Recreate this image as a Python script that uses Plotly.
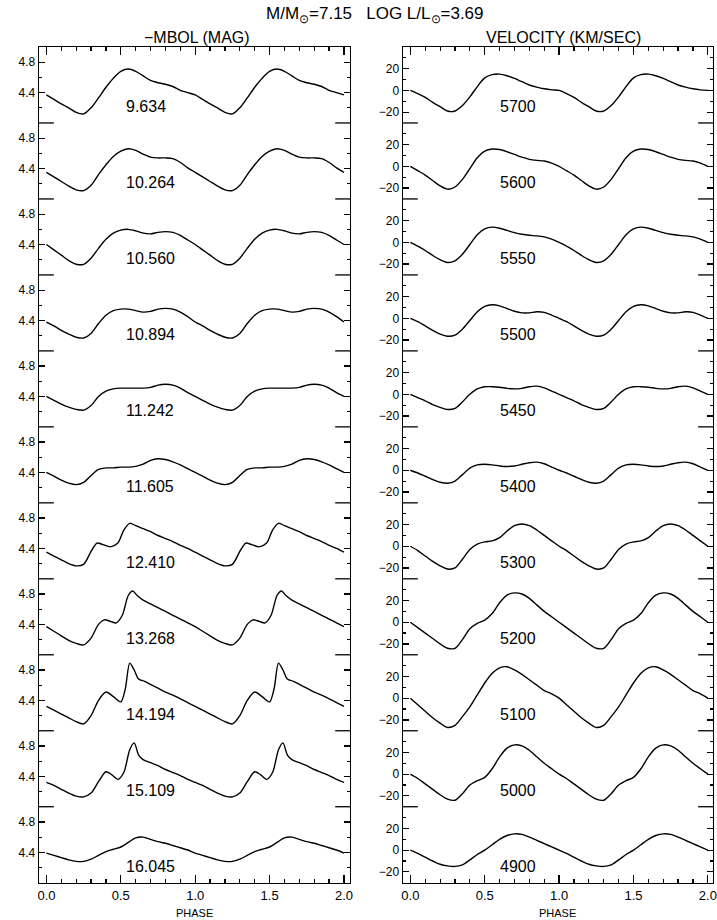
import plotly.graph_objects as go

W, H = 717, 920
FONT = "Liberation Sans, Arial, sans-serif"

# ---------------- data ----------------
PERIODS = ["9.634", "10.264", "10.560", "10.894", "11.242", "11.605",
           "12.410", "13.268", "14.194", "15.109", "16.045"]
TEMPS = ["5700", "5600", "5550", "5500", "5450", "5400",
         "5300", "5200", "5100", "5000", "4900"]

GRID = [0.00, 0.05, 0.10, 0.15, 0.20, 0.25, 0.30, 0.35, 0.40, 0.45,
        0.50, 0.55, 0.60, 0.65, 0.70, 0.75, 0.80, 0.85, 0.90, 0.95]

# -Mbol light curves (one pulsation cycle)
mbol_0 = [4.37, 4.31, 4.25, 4.20, 4.14, 4.12, 4.20, 4.33, 4.47, 4.59,
          4.68, 4.71, 4.68, 4.62, 4.56, 4.53, 4.51, 4.48, 4.43, 4.40]
mbol_1 = [4.35, 4.29, 4.23, 4.17, 4.12, 4.11, 4.18, 4.32, 4.45, 4.56,
          4.63, 4.66, 4.64, 4.59, 4.55, 4.54, 4.54, 4.53, 4.48, 4.41]
mbol_2 = [4.40, 4.33, 4.26, 4.19, 4.14, 4.14, 4.22, 4.35, 4.47, 4.55,
          4.59, 4.60, 4.58, 4.55, 4.54, 4.56, 4.57, 4.56, 4.52, 4.46]
mbol_3 = [4.38, 4.33, 4.27, 4.22, 4.18, 4.17, 4.23, 4.36, 4.47, 4.53,
          4.55, 4.55, 4.53, 4.51, 4.52, 4.55, 4.56, 4.55, 4.51, 4.45]
mbol_4 = [4.40, 4.35, 4.30, 4.26, 4.23, 4.22, 4.28, 4.40, 4.47, 4.50,
          4.51, 4.51, 4.51, 4.51, 4.52, 4.55, 4.56, 4.55, 4.51, 4.45]
mbol_5 = [4.40, 4.35, 4.30, 4.26, 4.24, 4.27, 4.36, 4.44, 4.46, 4.46,
          4.47, 4.47, 4.48, 4.51, 4.56, 4.58, 4.57, 4.54, 4.50, 4.45]
mbol_ph_6 = [0.00, 0.05, 0.10, 0.15, 0.20, 0.25, 0.30, 0.34, 0.38, 0.43, 0.48,
             0.52, 0.56, 0.60, 0.65, 0.70, 0.75, 0.80, 0.85, 0.90, 0.95]
mbol_6 = [4.35, 4.30, 4.25, 4.20, 4.17, 4.19, 4.36, 4.47, 4.45, 4.42, 4.47,
          4.64, 4.73, 4.70, 4.66, 4.62, 4.57, 4.53, 4.49, 4.44, 4.40]
mbol_ph_7 = [0.00, 0.05, 0.10, 0.15, 0.20, 0.25, 0.30, 0.35, 0.39, 0.43, 0.47,
             0.51, 0.55, 0.58, 0.61, 0.65, 0.70, 0.75, 0.80, 0.85, 0.90, 0.95]
mbol_7 = [4.37, 4.31, 4.25, 4.19, 4.15, 4.13, 4.22, 4.40, 4.46, 4.44, 4.42,
          4.52, 4.78, 4.84, 4.78, 4.72, 4.67, 4.62, 4.57, 4.52, 4.47, 4.42]
mbol_ph_8 = [0.00, 0.05, 0.10, 0.15, 0.20, 0.25, 0.30, 0.35, 0.40, 0.45, 0.50,
             0.53, 0.56, 0.59, 0.62, 0.66, 0.70, 0.75, 0.80, 0.85, 0.90, 0.95]
mbol_8 = [4.32, 4.27, 4.22, 4.17, 4.12, 4.09, 4.20, 4.40, 4.51, 4.45, 4.38,
          4.55, 4.89, 4.80, 4.68, 4.65, 4.61, 4.56, 4.51, 4.47, 4.42, 4.37]
mbol_ph_9 = [0.00, 0.05, 0.10, 0.15, 0.20, 0.25, 0.30, 0.35, 0.40, 0.44, 0.48,
             0.52, 0.56, 0.59, 0.62, 0.65, 0.70, 0.75, 0.80, 0.85, 0.90, 0.95]
mbol_9 = [4.32, 4.28, 4.23, 4.18, 4.14, 4.13, 4.18, 4.33, 4.46, 4.42, 4.36,
          4.45, 4.75, 4.84, 4.68, 4.62, 4.58, 4.54, 4.49, 4.45, 4.41, 4.36]
mbol_10 = [4.39, 4.36, 4.33, 4.30, 4.28, 4.28, 4.31, 4.36, 4.41, 4.44,
           4.47, 4.53, 4.59, 4.60, 4.57, 4.54, 4.52, 4.49, 4.46, 4.43]

# radial velocity curves (km/s, one cycle on GRID)
vel_0 = [0, -3, -6.5, -11, -15, -19, -19, -14, -6, 3.5,
         11.5, 14.5, 15, 13.5, 11, 8, 5, 3, 1.5, 0.5]
vel_1 = [0, -4, -8, -13, -18, -21, -19, -12, -2, 8,
         14, 16, 15.5, 13.5, 11, 8.5, 6.5, 5.5, 5, 3]
vel_2 = [0, -3.5, -7.5, -12, -16, -18.5, -17, -11, -2, 7,
         12.5, 14, 13, 11, 9, 7.5, 6.5, 6, 5, 3]
vel_3 = [0, -3, -7, -11, -14.5, -16.5, -15.5, -10, -2, 6,
         11, 12.5, 11.5, 9, 6.5, 5, 5, 6, 5.5, 3]
vel_4 = [0, -3, -6, -9.5, -12, -14, -13, -7, 0, 5,
         7, 7, 6.5, 5.5, 5, 5.5, 7, 7.5, 6, 3]
vel_5 = [0, -2.5, -5.5, -8.5, -11, -12, -10, -4, 2, 5,
         5.5, 5, 4, 3.5, 4, 5.5, 7, 7.5, 6, 3]
vel_6 = [0, -4, -9, -14, -18, -21, -20, -12, -3, 2,
         4, 5, 8, 14, 19, 20.5, 19, 15, 10, 5]
vel_7 = [0, -5, -10, -15, -20, -24, -24, -16, -6, -1,
         2, 8, 18, 25, 27, 26, 22, 16, 10, 5]
vel_8 = [0, -6, -12, -18, -23, -27, -25, -17, -8, 3,
         14, 23, 28, 29, 26, 22, 17, 12, 7, 4]
vel_9 = [0, -4, -9, -14, -19, -23, -24, -18, -10, -6,
         -3, 5, 16, 24, 27, 26, 22, 16, 10, 5]
vel_10 = [0, -3, -6.5, -10, -13, -14.5, -15, -13.5, -9, -4,
          0, 5, 10, 13.5, 15, 14.5, 12, 9, 6, 3]

MBOL_PHASES = [GRID, GRID, GRID, GRID, GRID, GRID,
               mbol_ph_6, mbol_ph_7, mbol_ph_8, mbol_ph_9, GRID]
MBOL = [mbol_0, mbol_1, mbol_2, mbol_3, mbol_4, mbol_5,
        mbol_6, mbol_7, mbol_8, mbol_9, mbol_10]
VEL = [vel_0, vel_1, vel_2, vel_3, vel_4, vel_5,
       vel_6, vel_7, vel_8, vel_9, vel_10]

MBOL_TICKS = [4.4, 4.8]
MBOL_MINOR = [4.2, 4.6]
VEL_TICKS = [-20, 0, 20]
VEL_MINOR = [-10, 10, 30]
PHASE_TICKS = [0.0, 0.5, 1.0, 1.5, 2.0]

# ---------------- geometry (pixels) ----------------
TOP, BOT = 47.0, 882.7
NROW = 11
PH = (BOT - TOP) / NROW
COLS = [(37.3, 351.0), (404.3, 717.0)]
XRANGES = [[-0.05, 2.041], [-0.05, 2.0347]]
YRANGES = [[4.0, 5.0], [-30, 40]]
LONG_TICK = 15.0


def fx(px):
    return px / W


def fy(py):
    return 1 - py / H


def two_cycles(ph, v):
    x = list(ph) + [p + 1 for p in ph] + [2.0]
    y = list(v) + list(v) + [v[0]]
    return x, y


fig = go.Figure()
layout = dict(
    width=W, height=H, margin=dict(l=0, r=0, t=0, b=0),
    paper_bgcolor="white", plot_bgcolor="white", showlegend=False,
    font=dict(family=FONT, color="black"),
)
shapes = []
annotations = []

for i in range(NROW):
    top = TOP + i * PH
    bot = top + PH
    for col in range(2):
        n = 2 * i + col + 1
        s = "" if n == 1 else str(n)
        if col == 0:
            x, y = two_cycles(MBOL_PHASES[i], MBOL[i])
        else:
            x, y = two_cycles(GRID, VEL[i])
        fig.add_trace(go.Scatter(
            x=x, y=y, mode="lines", xaxis="x" + s, yaxis="y" + s,
            line=dict(color="black", width=1.4, shape="spline", smoothing=0.8),
            hoverinfo="skip", showlegend=False))

        x0, x1 = COLS[col]
        xa = dict(domain=[fx(x0), fx(x1)], range=XRANGES[col], anchor="y" + s,
                  showgrid=False, zeroline=False, fixedrange=True)
        common_x = dict(showline=True, linecolor="black", linewidth=1.3,
                        ticks="inside", ticklen=8, tickwidth=1.2, tickcolor="black",
                        tickmode="array", tickvals=PHASE_TICKS,
                        ticktext=["%.1f" % t for t in PHASE_TICKS],
                        ticklabeloverflow="allow",
                        minor=dict(ticks="inside", tick0=0, dtick=0.1, ticklen=4,
                                   tickwidth=1.2, tickcolor="black"))
        if i == 0:
            xa.update(common_x)
            xa.update(side="top", showticklabels=False)
        elif i == NROW - 1:
            xa.update(common_x)
            xa.update(side="bottom", showticklabels=True,
                      tickfont=dict(size=13, family=FONT, color="black"))
        else:
            xa.update(visible=False)
        layout["xaxis" + s] = xa

        if col == 0:
            tv, tt, mv = MBOL_TICKS, ["%.1f" % t for t in MBOL_TICKS], MBOL_MINOR
        else:
            tv = VEL_TICKS
            tt = [("\u2212%d" % -t) if t < 0 else "%d" % t for t in VEL_TICKS]
            mv = VEL_MINOR
        layout["yaxis" + s] = dict(
            domain=[fy(bot), fy(top)], range=YRANGES[col], anchor="x" + s,
            showline=True, mirror="ticks", linecolor="black", linewidth=1.3,
            ticks="inside", ticklen=6, tickwidth=1.2, tickcolor="black",
            tickmode="array", tickvals=tv, ticktext=tt,
            tickfont=dict(size=12, family=FONT, color="black"),
            minor=dict(ticks="inside", tickmode="array", tickvals=mv, ticklen=3,
                       tickwidth=1.2, tickcolor="black"),
            showgrid=False, zeroline=False, fixedrange=True)

        # long separator ticks at panel boundaries
        if i < NROW - 1:
            frac = LONG_TICK / (x1 - x0)
            for a, b in [(0, frac), (1 - frac, 1)]:
                shapes.append(dict(type="line", xref="x" + s + " domain",
                                   yref="y" + s + " domain", x0=a, x1=b, y0=0, y1=0,
                                   line=dict(color="black", width=1.3)))

        # panel label
        if col == 0:
            annotations.append(dict(x=0.52, y=4.217, xref="x" + s, yref="y" + s,
                                    text=PERIODS[i], showarrow=False, xanchor="left",
                                    yanchor="middle",
                                    font=dict(size=16, family=FONT, color="black")))
        else:
            annotations.append(dict(x=0.59, y=-14.8, xref="x" + s, yref="y" + s,
                                    text=TEMPS[i], showarrow=False, xanchor="left",
                                    yanchor="middle",
                                    font=dict(size=16, family=FONT, color="black")))

# titles
annotations.append(dict(x=fx(376), y=fy(15), xref="paper", yref="paper",
                        text="M/M<sub>\u2299</sub>=7.15   LOG L/L<sub>\u2299</sub>=3.69",
                        showarrow=False, xanchor="center", yanchor="middle",
                        font=dict(size=17, family=FONT, color="black")))
annotations.append(dict(x=fx(196.5), y=fy(37), xref="paper", yref="paper",
                        text="\u2212MBOL (MAG)", showarrow=False,
                        xanchor="center", yanchor="middle",
                        font=dict(size=16, family=FONT, color="black")))
annotations.append(dict(x=fx(566), y=fy(37), xref="paper", yref="paper",
                        text="VELOCITY (KM/SEC)", showarrow=False,
                        xanchor="center", yanchor="middle",
                        font=dict(size=16, family=FONT, color="black")))
for cx in (194.1, 560.6):
    annotations.append(dict(x=fx(cx), y=fy(912.5), xref="paper", yref="paper",
                            text="PHASE", showarrow=False, xanchor="center",
                            yanchor="middle",
                            font=dict(size=11, family=FONT, color="black")))

layout["shapes"] = shapes
layout["annotations"] = annotations
fig.update_layout(**layout)
fig.write_html("out.html",
               config={"displayModeBar": False, "staticPlot": True},
               post_script="document.body.style.margin='0';"
                           "document.body.style.overflow='hidden';")
